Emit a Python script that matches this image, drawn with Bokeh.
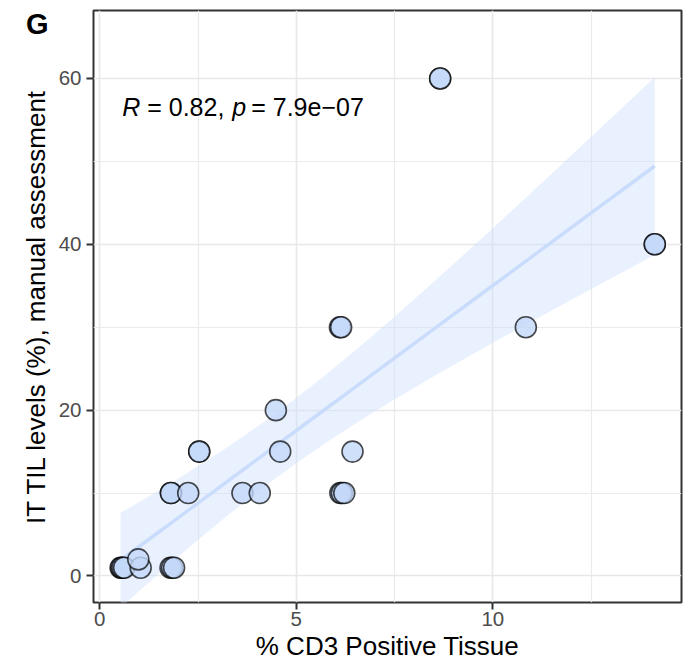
import numpy as np
from bokeh.plotting import figure
from bokeh.models import FixedTicker, Label, Range1d, LinearAxis, CustomJSTickFormatter
from bokeh.embed import file_html
from bokeh.resources import INLINE

# ---- data ----
cd3_positive = [0.53, 0.55, 0.58, 0.62, 1.04, 0.98, 1.80, 1.84, 1.89,
                1.81, 1.81, 2.25, 3.63, 4.07, 6.12, 6.16, 6.22,
                2.53, 2.53, 4.59, 6.43, 4.48,
                6.11, 6.14, 10.84, 8.66, 8.66, 14.12, 14.12]
til_levels = [1, 1, 1, 1, 1, 2, 1, 1, 1,
              10, 10, 10, 10, 10, 10, 10, 10,
              15, 15, 15, 15, 20,
              30, 30, 30, 60, 60, 40, 40]
x_ticks = [0, 5, 10]
x_minor = [2.5, 7.5, 12.5]
y_ticks = [0, 20, 40, 60]
y_minor = [10, 30, 50]
panel_tag = "G"
stat_parts = ["R", "= 0.82,", "p", "= 7.9e\u221207"]

FONT = "Liberation Sans"
W, H = 686, 666

x = np.array(cd3_positive, dtype=float)
y = np.array(til_levels, dtype=float)

# ---- linear fit with 95% confidence band ----
n = len(x)
b, a = np.polyfit(x, y, 1)
resid = y - (a + b * x)
s = np.sqrt(np.sum(resid ** 2) / (n - 2))
xbar = x.mean()
sxx = np.sum((x - xbar) ** 2)
df = n - 2
z = 1.959964
tcrit = z + (z ** 3 + z) / (4 * df) + (5 * z ** 5 + 16 * z ** 3 + 3 * z) / (96 * df ** 2)
xs = np.linspace(x.min(), x.max(), 80)
ys = a + b * xs
half = tcrit * s * np.sqrt(1.0 / n + (xs - xbar) ** 2 / sxx)

x_start, x_end = -0.16, 14.8
y_start, y_end = -3.2, 68.2

p = figure(width=W, height=H, output_backend="svg", toolbar_location=None,
           x_range=Range1d(x_start, x_end), y_range=Range1d(y_start, y_end),
           min_border_left=93, min_border_right=5, min_border_top=10,
           min_border_bottom=64)
p.background_fill_color = "white"
p.border_fill_color = "white"
p.outline_line_color = "#333333"
p.outline_line_width = 2

p.xaxis.ticker = FixedTicker(ticks=x_ticks, minor_ticks=x_minor)
p.yaxis.ticker = FixedTicker(ticks=y_ticks, minor_ticks=y_minor)

for g in (p.xgrid[0], p.ygrid[0]):
    g.grid_line_color = "#e8e8e8"
    g.grid_line_width = 1.6
    g.minor_grid_line_color = "#ebebeb"
    g.minor_grid_line_width = 1.2

for ax in (p.xaxis[0], p.yaxis[0]):
    ax.axis_line_color = None
    ax.major_tick_line_color = "#333333"
    ax.major_tick_line_width = 2
    ax.major_tick_in = 0
    ax.major_tick_out = 7
    ax.minor_tick_line_color = None
    ax.major_label_text_font = FONT
    ax.major_label_text_font_size = "20.5px"
    ax.major_label_text_color = "#4d4d4d"
    ax.axis_label_text_font = FONT
    ax.axis_label_text_font_size = "26px"
    ax.axis_label_text_font_style = "normal"
    ax.axis_label_text_color = "black"

p.xaxis.axis_label = "% CD3 Positive Tissue"
p.yaxis.axis_label = "IT TIL levels (%), manual assessment"
p.xaxis.major_label_standoff = 2
p.xaxis.axis_label_standoff = 2
p.yaxis.major_label_standoff = 5
p.yaxis.axis_label_standoff = 5

# panel tag: drawn as the single tick label of an extra, otherwise invisible left axis
tag_y = 66.6
tag_axis = LinearAxis(ticker=FixedTicker(ticks=[tag_y], minor_ticks=[]),
                      formatter=CustomJSTickFormatter(code="return '%s'" % panel_tag),
                      axis_line_color=None, major_tick_line_color=None,
                      minor_tick_line_color=None, major_tick_in=0, major_tick_out=0,
                      major_label_standoff=-31,
                      major_label_text_font=FONT, major_label_text_font_size="29px",
                      major_label_text_font_style="bold", major_label_text_color="black")
p.add_layout(tag_axis, "left")

# confidence band and fitted line
p.varea(x=xs, y1=ys - half, y2=ys + half, fill_color="#cfe0fc", fill_alpha=0.45)
p.line(xs, ys, line_color="#cadcfb", line_width=3.5)

# points
p.scatter(x, y, size=21, fill_color="#c3d8fa", fill_alpha=0.8,
          line_color="black", line_alpha=0.7, line_width=1.6)

# correlation label
label_x, label_y = 0.57, 56.6
offsets = [0, 25, 110, 129]
styles = ["italic", "normal", "italic", "normal"]
for txt, off, st in zip(stat_parts, offsets, styles):
    p.add_layout(Label(x=label_x, y=label_y, x_offset=off, text=txt,
                       text_font=FONT, text_font_size="25px",
                       text_font_style=st, text_color="black",
                       text_baseline="alphabetic", text_align="left"))

open("out.html", "w").write(file_html(p, INLINE))
